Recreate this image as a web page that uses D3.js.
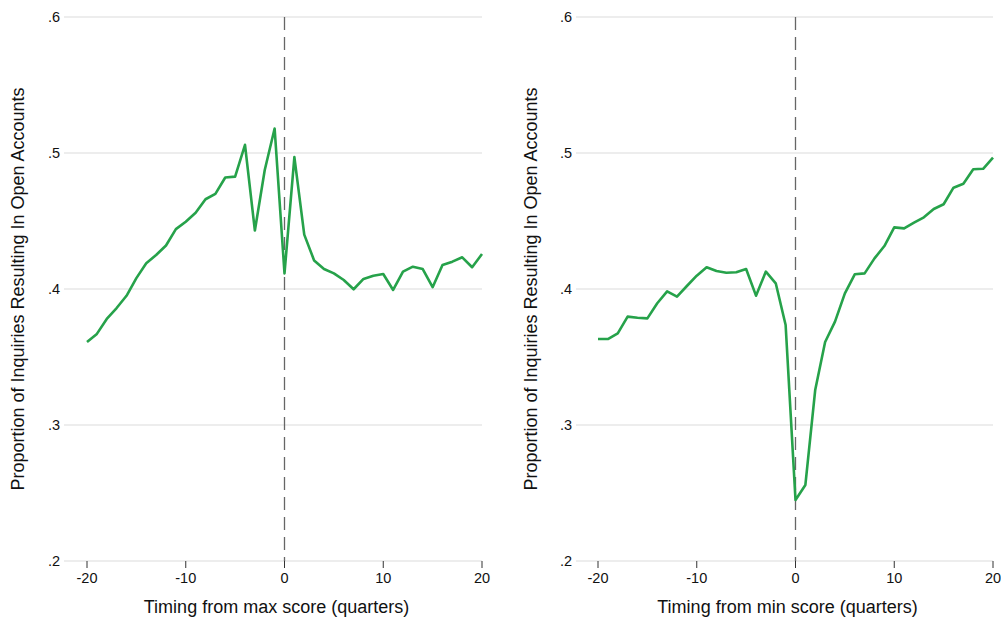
<!DOCTYPE html>
<html><head><meta charset="utf-8">
<script src="https://cdn.jsdelivr.net/npm/d3@7"></script>
<style>body{margin:0;background:#fff;} svg{display:block;} text{font-family:"Liberation Sans",Arial,Helvetica,sans-serif;fill:#111;}</style>
</head><body>
<svg id="c" width="1001" height="620"></svg>
<script>
const quarters = d3.range(-20, 21);
const maxScoreValues = [0.361,0.367,0.378,0.386,0.395,0.408,0.419,0.425,0.432,0.444,0.4495,0.456,0.466,0.470,0.482,0.4826,0.506,0.443,0.4875,0.518,0.4115,0.497,0.440,0.421,0.4147,0.4115,0.4066,0.3998,0.4074,0.4098,0.411,0.3993,0.4128,0.4164,0.4147,0.4013,0.4176,0.4201,0.4233,0.416,0.4257];
const minScoreValues = [0.3632,0.3632,0.3674,0.3797,0.3789,0.3784,0.3895,0.3983,0.3944,0.4022,0.4098,0.416,0.4132,0.412,0.4123,0.4147,0.3951,0.4128,0.4042,0.3735,0.2449,0.2559,0.326,0.361,0.376,0.3968,0.4108,0.4115,0.4225,0.4316,0.4453,0.4446,0.4488,0.4527,0.4588,0.4623,0.4745,0.4774,0.488,0.4884,0.4966];
const yTicks = [0.2,0.3,0.4,0.5,0.6];
const yTickLabels = [".2",".3",".4",".5",".6"];
const xTicks = [-20,-10,0,10,20];
const yTitle = "Proportion of Inquiries Resulting In Open Accounts";
const xTitles = ["Timing from max score (quarters)","Timing from min score (quarters)"];

const svg = d3.select("#c");
const panels = [
  {values:maxScoreValues, gridL:64, x0:87, x1:482, labelR:60, titleX:18, xTitle:xTitles[0]},
  {values:minScoreValues, gridL:576, x0:598, x1:993, labelR:572, titleX:531, xTitle:xTitles[1]}
];
const y = d3.scaleLinear().domain([0.2,0.6]).range([561,17]);

panels.forEach(p => {
  const x = d3.scaleLinear().domain([-20,20]).range([p.x0,p.x1]);
  const g = svg.append("g");
  g.selectAll("line.grid").data(yTicks).enter().append("line")
    .attr("x1",p.gridL).attr("x2",p.x1)
    .attr("y1",d=>y(d)).attr("y2",d=>y(d))
    .attr("stroke","#dcdcdc").attr("stroke-width",1.2);
  g.selectAll("text.yl").data(yTicks).enter().append("text")
    .attr("x",p.labelR).attr("y",d=>y(d)+5)
    .attr("text-anchor","end").attr("font-size",14.5)
    .text((d,i)=>yTickLabels[i]);
  g.selectAll("line.xt").data(xTicks).enter().append("line")
    .attr("x1",d=>x(d)).attr("x2",d=>x(d))
    .attr("y1",561).attr("y2",568)
    .attr("stroke","#333").attr("stroke-width",1);
  g.selectAll("text.xl").data(xTicks).enter().append("text")
    .attr("x",d=>x(d)).attr("y",583)
    .attr("text-anchor","middle").attr("font-size",14.5)
    .text(d=>d);
  g.append("line").attr("x1",x(0)).attr("x2",x(0))
    .attr("y1",y(0.6)).attr("y2",y(0.2))
    .attr("stroke","#666").attr("stroke-width",1.3)
    .attr("stroke-dasharray","13,7");
  const line = d3.line().x((d,i)=>x(quarters[i])).y(d=>y(d));
  g.append("path").datum(p.values).attr("d",line)
    .attr("fill","none").attr("stroke","#26a24a").attr("stroke-width",2.6)
    .attr("stroke-linejoin","round");
  g.append("text").attr("x",(p.x0+p.x1)/2 - 8).attr("y",613)
    .attr("text-anchor","middle").attr("font-size",18).text(p.xTitle);
  g.append("text").attr("transform",`translate(${p.titleX+6},${y(0.4)}) rotate(-90)`)
    .attr("text-anchor","middle").attr("font-size",18).text(yTitle);
});
</script>
</body></html>
